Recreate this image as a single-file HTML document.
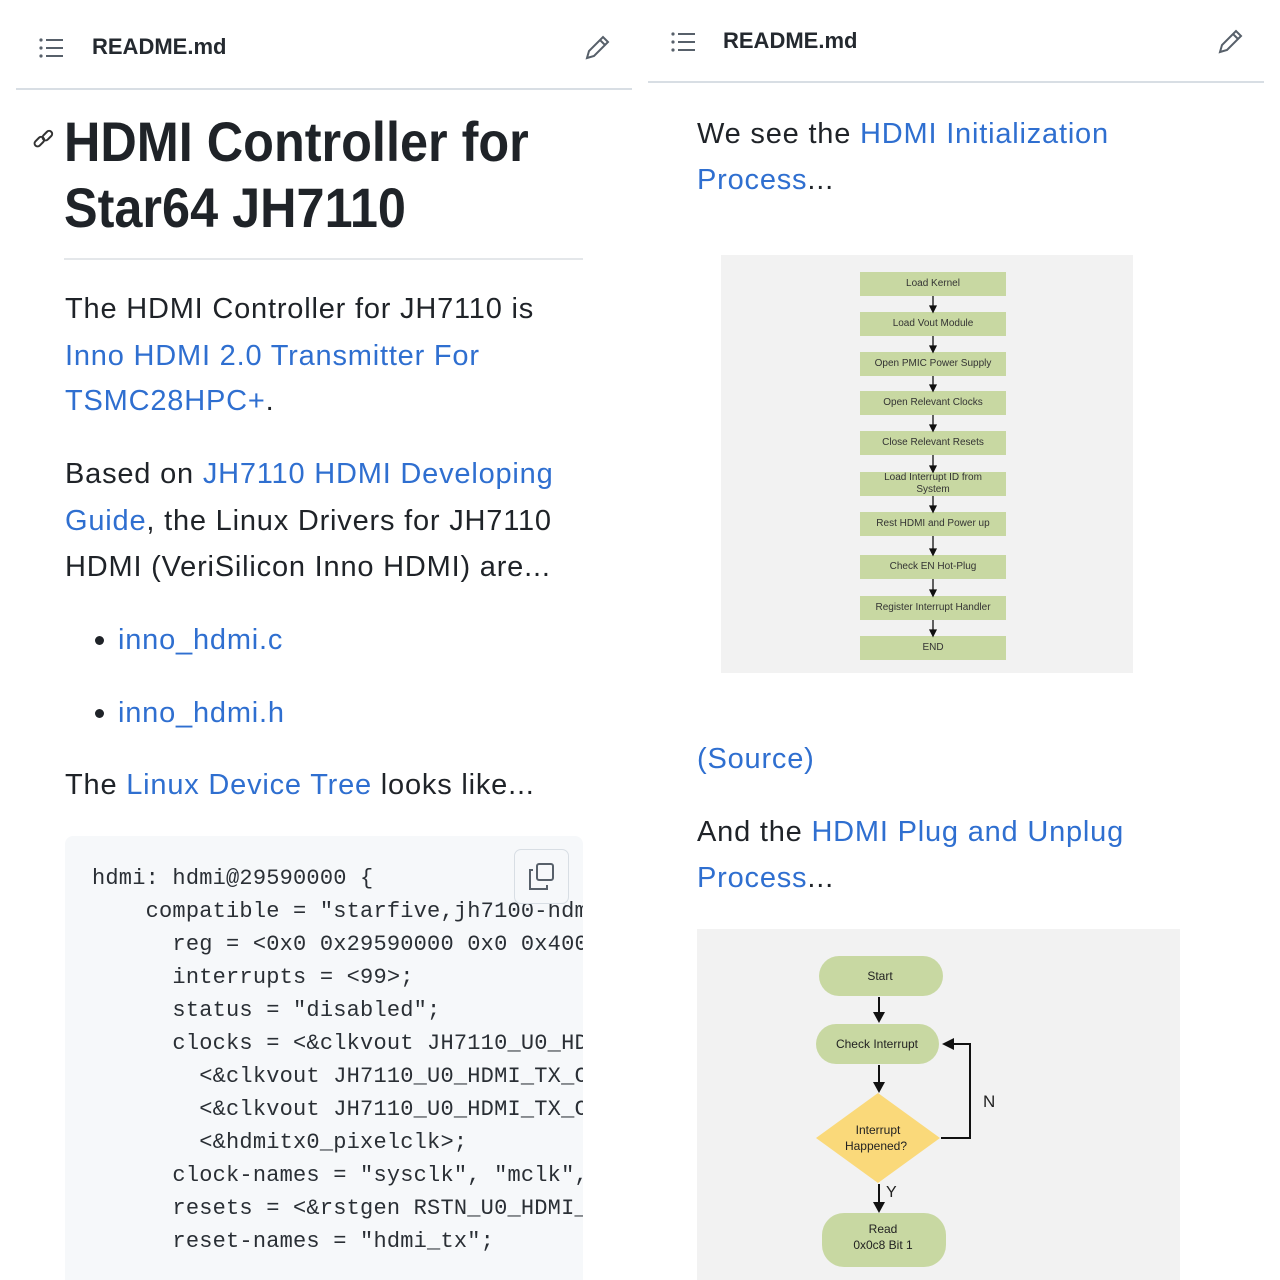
<!DOCTYPE html>
<html><head><meta charset="utf-8">
<style>
*{margin:0;padding:0;box-sizing:border-box}
body{width:1280px;height:1280px;background:#fff;position:relative;overflow:hidden;font-family:"Liberation Sans",sans-serif;color:#1f2328}
.t{position:absolute;white-space:nowrap;line-height:40px;font-size:29px;letter-spacing:0.8px}
.a{color:#2f6fd0}
.h{position:absolute;font-size:22px;font-weight:bold;line-height:30px;color:#24292f}
.code{position:absolute;left:65px;top:836px;width:518px;height:444px;background:#f6f8fa;border-radius:8px 8px 0 0;overflow:hidden}
.code pre{position:absolute;left:27px;top:26px;font-family:"Liberation Mono",monospace;font-size:22px;line-height:33px;color:#2a2f35;letter-spacing:0.2px}
.b{position:absolute;background:#c8d8a2;font-size:10px;color:#333;text-align:center;display:flex;align-items:center;justify-content:center;line-height:12px}
</style></head><body>
<!-- left header -->
<svg style="position:absolute;left:38px;top:36px" width="26" height="24"><g fill="#57606a"><circle cx="3" cy="4" r="1.6"/><circle cx="3" cy="12" r="1.6"/><circle cx="3" cy="20" r="1.6"/><rect x="8" y="3" width="17" height="2"/><rect x="8" y="11" width="17" height="2"/><rect x="8" y="19" width="17" height="2"/></g></svg>
<div class="h" style="left:92px;top:32px">README.md</div>
<svg style="position:absolute;left:583px;top:34px" width="28" height="28"><path d="M4 24 L6 17 L20 3 L25 8 L11 22 Z M17 6 L22 11" fill="none" stroke="#57606a" stroke-width="2"/></svg>
<div style="position:absolute;left:16px;top:88px;width:616px;height:2px;background:#d8dee4"></div>
<!-- right header -->
<svg style="position:absolute;left:670px;top:30px" width="26" height="24"><g fill="#57606a"><circle cx="3" cy="4" r="1.6"/><circle cx="3" cy="12" r="1.6"/><circle cx="3" cy="20" r="1.6"/><rect x="8" y="3" width="17" height="2"/><rect x="8" y="11" width="17" height="2"/><rect x="8" y="19" width="17" height="2"/></g></svg>
<div class="h" style="left:723px;top:26px">README.md</div>
<svg style="position:absolute;left:1216px;top:28px" width="28" height="28"><path d="M4 24 L6 17 L20 3 L25 8 L11 22 Z M17 6 L22 11" fill="none" stroke="#57606a" stroke-width="2"/></svg>
<div style="position:absolute;left:648px;top:81px;width:616px;height:2px;background:#d8dee4"></div>

<!-- left content -->
<svg style="position:absolute;left:32px;top:128px" width="24" height="24"><g fill="none" stroke="#333" stroke-width="2"><rect x="2" y="11" width="11" height="6" rx="3" transform="rotate(-45 7 14)"/><rect x="10" y="5" width="11" height="6" rx="3" transform="rotate(-45 15 8)"/></g></svg>
<div class="t" style="left:64px;top:112px;font-size:56px;font-weight:bold;line-height:60px;color:#1f2328;letter-spacing:0;transform:scaleX(0.9);transform-origin:0 0">HDMI Controller for</div>
<div class="t" style="left:64px;top:178px;font-size:56px;font-weight:bold;line-height:60px;color:#1f2328;letter-spacing:0;transform:scaleX(0.9);transform-origin:0 0">Star64 JH7110</div>
<div style="position:absolute;left:64px;top:258px;width:519px;height:2px;background:#e4e7ea"></div>
<div class="t" style="left:65px;top:289px">The HDMI Controller for JH7110 is</div>
<div class="t a" style="left:65px;top:336px">Inno HDMI 2.0 Transmitter For</div>
<div class="t" style="left:65px;top:381px"><span class="a">TSMC28HPC+</span>.</div>
<div class="t" style="left:65px;top:454px">Based on <span class="a">JH7110 HDMI Developing</span></div>
<div class="t" style="left:65px;top:501px"><span class="a">Guide</span>, the Linux Drivers for JH7110</div>
<div class="t" style="left:65px;top:547px">HDMI (VeriSilicon Inno HDMI) are...</div>
<div style="position:absolute;left:95px;top:636px;width:9px;height:9px;border-radius:50%;background:#1f2328"></div>
<div class="t a" style="left:118px;top:620px">inno_hdmi.c</div>
<div style="position:absolute;left:95px;top:709px;width:9px;height:9px;border-radius:50%;background:#1f2328"></div>
<div class="t a" style="left:118px;top:693px">inno_hdmi.h</div>
<div class="t" style="left:65px;top:765px">The <span class="a">Linux Device Tree</span> looks like...</div>
<div class="code"><pre>hdmi: hdmi@29590000 {
    compatible = "starfive,jh7100-hdmi";
      reg = &lt;0x0 0x29590000 0x0 0x4000&gt;;
      interrupts = &lt;99&gt;;
      status = "disabled";
      clocks = &lt;&amp;clkvout JH7110_U0_HDMI_TX_CLK&gt;,
        &lt;&amp;clkvout JH7110_U0_HDMI_TX_CLK&gt;,
        &lt;&amp;clkvout JH7110_U0_HDMI_TX_CLK&gt;,
        &lt;&amp;hdmitx0_pixelclk&gt;;
      clock-names = "sysclk", "mclk",
      resets = &lt;&amp;rstgen RSTN_U0_HDMI_TX&gt;;
      reset-names = "hdmi_tx";</pre>
<div style="position:absolute;left:449px;top:13px;width:55px;height:55px;border:1px solid #d8dee4;border-radius:7px;background:#f6f8fa"></div>
<svg style="position:absolute;left:462px;top:26px" width="30" height="30"><g fill="none" stroke="#57606a" stroke-width="2"><rect x="10" y="2" width="16" height="16" rx="2"/><path d="M6 8 H3 V27 H20 V23"/></g></svg>
</div>

<!-- right content -->
<div class="t" style="left:697px;top:114px">We see the <span class="a">HDMI Initialization</span></div>
<div class="t" style="left:697px;top:160px"><span class="a">Process</span>...</div>
<div style="position:absolute;left:721px;top:255px;width:412px;height:418px;background:#f2f2f2"></div>
<div class="b" style="left:860px;top:272px;width:146px;height:24px">Load Kernel</div>
<div class="b" style="left:860px;top:312px;width:146px;height:24px">Load Vout Module</div>
<div class="b" style="left:860px;top:352px;width:146px;height:24px">Open PMIC Power Supply</div>
<div class="b" style="left:860px;top:391px;width:146px;height:24px">Open Relevant Clocks</div>
<div class="b" style="left:860px;top:431px;width:146px;height:24px">Close Relevant Resets</div>
<div class="b" style="left:860px;top:472px;width:146px;height:24px">Load Interrupt ID from<br>System</div>
<div class="b" style="left:860px;top:512px;width:146px;height:24px">Rest HDMI and Power up</div>
<div class="b" style="left:860px;top:555px;width:146px;height:24px">Check EN Hot-Plug</div>
<div class="b" style="left:860px;top:596px;width:146px;height:24px">Register Interrupt Handler</div>
<div class="b" style="left:860px;top:636px;width:146px;height:24px">END</div>
<svg style="position:absolute;left:921px;top:255px" width="24" height="420"><g stroke="#111" stroke-width="1.3" fill="#111">
<line x1="12" y1="41" x2="12" y2="53"/><path d="M9 51 L15 51 L12 57Z"/>
<line x1="12" y1="81" x2="12" y2="93"/><path d="M9 91 L15 91 L12 97Z"/>
<line x1="12" y1="121" x2="12" y2="132"/><path d="M9 130 L15 130 L12 136Z"/>
<line x1="12" y1="160" x2="12" y2="172"/><path d="M9 170 L15 170 L12 176Z"/>
<line x1="12" y1="200" x2="12" y2="213"/><path d="M9 211 L15 211 L12 217Z"/>
<line x1="12" y1="241" x2="12" y2="253"/><path d="M9 251 L15 251 L12 257Z"/>
<line x1="12" y1="281" x2="12" y2="296"/><path d="M9 294 L15 294 L12 300Z"/>
<line x1="12" y1="324" x2="12" y2="337"/><path d="M9 335 L15 335 L12 341Z"/>
<line x1="12" y1="365" x2="12" y2="377"/><path d="M9 375 L15 375 L12 381Z"/>
</g></svg>
<div class="t a" style="left:697px;top:739px">(Source)</div>
<div class="t" style="left:697px;top:812px">And the <span class="a">HDMI Plug and Unplug</span></div>
<div class="t" style="left:697px;top:858px"><span class="a">Process</span>...</div>
<div style="position:absolute;left:697px;top:929px;width:483px;height:351px;background:#f2f2f2"></div>
<svg style="position:absolute;left:697px;top:929px" width="483" height="351" font-family="Liberation Sans, sans-serif" font-size="12" fill="#222">
<rect x="122" y="27" width="124" height="40" rx="20" fill="#c8d8a2"/>
<text x="183" y="51" text-anchor="middle" fill="#222">Start</text>
<rect x="119" y="95" width="123" height="40" rx="20" fill="#c8d8a2"/>
<text x="180" y="119" text-anchor="middle" fill="#222">Check Interrupt</text>
<path d="M181 164 L243 209 L181 254 L119 209 Z" fill="#fad97a"/>
<text x="181" y="205" text-anchor="middle" fill="#222">Interrupt</text>
<text x="179" y="221" text-anchor="middle" fill="#222">Happened?</text>
<rect x="125" y="284" width="124" height="54" rx="22" fill="#c8d8a2"/>
<text x="186" y="304" text-anchor="middle" fill="#222">Read</text>
<text x="186" y="320" text-anchor="middle" fill="#222">0x0c8 Bit 1</text>
<g stroke="#111" stroke-width="2" fill="none">
<line x1="182" y1="68" x2="182" y2="84"/>
<line x1="182" y1="136" x2="182" y2="154"/>
<line x1="182" y1="255" x2="182" y2="274"/>
<polyline points="244,209 273,209 273,115 257,115"/>
</g>
<g fill="#111"><path d="M176 83 L188 83 L182 94Z"/><path d="M176 153 L188 153 L182 164Z"/><path d="M176 273 L188 273 L182 284Z"/><path d="M257 109 L257 121 L245 115Z"/></g>
<text x="286" y="178" font-size="17" fill="#222">N</text>
<text x="189" y="268" font-size="16" fill="#222">Y</text>
</svg>
</body></html>
